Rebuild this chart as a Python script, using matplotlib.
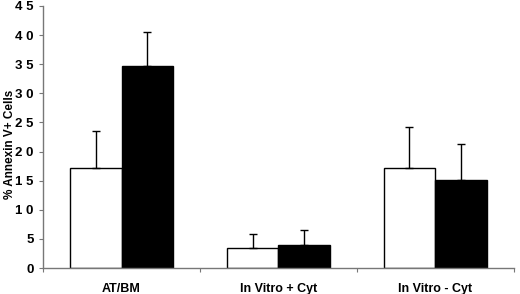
import matplotlib.pyplot as plt
import numpy as np

plt.rcParams['font.family'] = ['Liberation Sans', 'DejaVu Sans']
plt.rcParams['font.weight'] = 'bold'

categories = ['AT/BM', 'In Vitro + Cyt', 'In Vitro - Cyt']
white_vals = [17.2, 3.5, 17.2]
white_err = [6.3, 2.4, 7.1]
black_vals = [34.7, 4.0, 15.1]
black_err = [5.9, 2.5, 6.2]

fig = plt.figure(figsize=(5.2, 2.94), dpi=100)
ax = fig.add_axes([0.083, 0.088, 0.905, 0.892])

x = np.arange(len(categories))
w = 0.33
ax.bar(x - w / 2, white_vals, w, color='white', edgecolor='black', linewidth=1.0,
       yerr=[np.zeros(3), white_err], error_kw=dict(ecolor='black', elinewidth=1.0, capsize=3, capthick=1.0))
ax.bar(x + w / 2, black_vals, w, color='black', edgecolor='black', linewidth=1.0,
       yerr=[np.zeros(3), black_err], error_kw=dict(ecolor='black', elinewidth=1.0, capsize=3, capthick=1.0))

ax.set_xlim(-0.5, 2.5)
ax.set_ylim(0, 45)
ax.set_yticks(range(0, 46, 5))
ax.set_yticklabels([' '.join(str(v)) for v in range(0, 46, 5)], fontsize=9.5, fontweight='bold')
ax.set_xticks([-0.5, 0.5, 1.5, 2.5])
ax.set_xticklabels([])
ax.set_xticks(x, minor=True)
ax.set_xticklabels(categories, minor=True, fontsize=9, fontweight='bold')
ax.tick_params(axis='x', which='minor', length=0, pad=11)
ax.tick_params(axis='x', which='major', length=3, color='#777777')
ax.tick_params(axis='y', length=3, color='#777777', pad=4)
ax.set_ylabel('% Annexin V+ Cells', fontsize=8.5, fontweight='bold')
ax.yaxis.set_label_coords(-0.057, 0.47)

for s in ['top', 'right']:
    ax.spines[s].set_visible(False)
for s in ['left', 'bottom']:
    ax.spines[s].set_color('#777777')
    ax.spines[s].set_linewidth(1.0)

fig.savefig('out.png', dpi=100)
